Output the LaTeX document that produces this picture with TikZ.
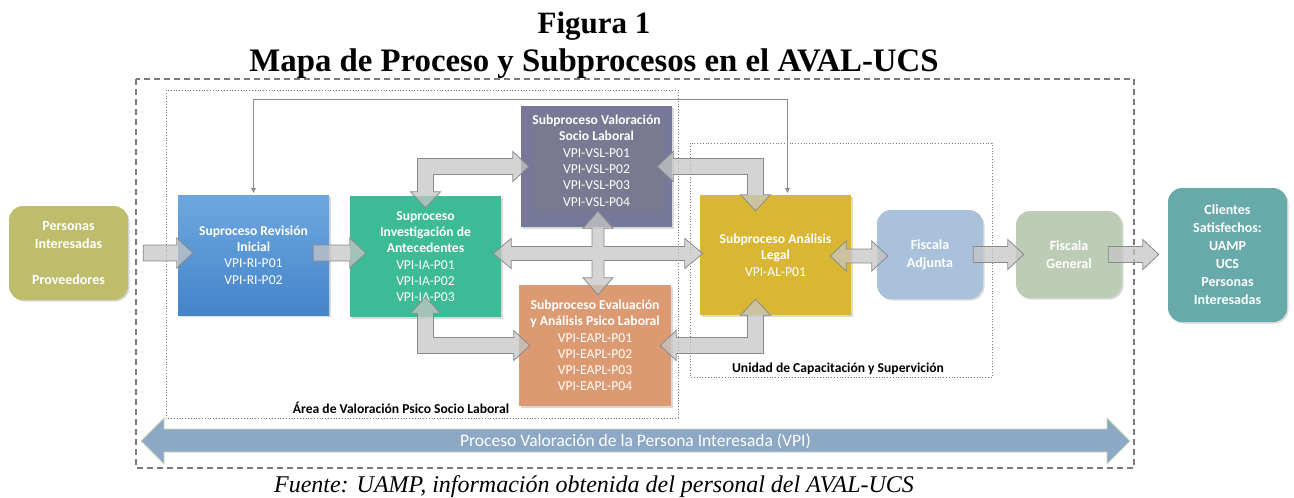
\documentclass[tikz,border=0pt]{standalone}
\usepackage{fontspec}
\setmainfont{Liberation Serif}
\newfontfamily\calibri{Carlito}
\usetikzlibrary{calc,arrows.meta,shadows}
\definecolor{persfill}{HTML}{BDBD6C}
\definecolor{ritop}{HTML}{6EA8DF}
\definecolor{ribot}{HTML}{4484CB}
\definecolor{iafill}{HTML}{3DBB96}
\definecolor{vslfill}{HTML}{777799}
\definecolor{eaplfill}{HTML}{DC9A72}
\definecolor{alfill}{HTML}{D9B733}
\definecolor{fafill}{HTML}{A9C1DA}
\definecolor{fgfill}{HTML}{BDCCB5}
\definecolor{clifill}{HTML}{68A9A9}
\definecolor{arrfill}{HTML}{C6C6C6}
\definecolor{arrline}{HTML}{8A8A8A}
\definecolor{vpifill}{HTML}{8CA8C4}
\definecolor{vpiline}{HTML}{C9DDB9}
\definecolor{linkgrey}{HTML}{8C8C8C}
\definecolor{areagrey}{HTML}{7A7A7A}
\tikzset{%
  procbox/.style={text=white, align=center, inner sep=2pt,
    font=\calibri\fontsize{13.6}{16.3}\selectfont,
    drop shadow={shadow xshift=1.5pt, shadow yshift=-1.5pt, opacity=.3}},
  endbox/.style={procbox, rounded corners=14pt,
    font=\calibri\bfseries\fontsize{14}{18}\selectfont},
  blockarrow/.style={draw=arrline, line width=.8pt, fill=arrfill, fill opacity=.75},
  link/.style={draw=linkgrey, line width=.6pt,
    {Triangle[length=5pt,width=5pt]}-{Triangle[length=5pt,width=5pt]}},
  area/.style={draw=areagrey, line width=.8pt, dotted},
  areatext/.style={font=\calibri\bfseries\fontsize{13.6}{15}\selectfont, inner sep=0pt},
}
% block arrow from tail #1 to tip #2 (pointing right)
\newcommand{\rarrow}[2]{%
  \draw[blockarrow] ($(#1)+(0,-8)$) -- ($(#2)+(-16,-8)$) -- ($(#2)+(-16,-15)$) -- (#2)
    -- ($(#2)+(-16,15)$) -- ($(#2)+(-16,8)$) -- ($(#1)+(0,8)$) -- cycle;}
% block arrow with two heads, tips #1 (left) and #2 (right)
\newcommand{\lrarrow}[2]{%
  \draw[blockarrow] (#1) -- ($(#1)+(16,-15)$) -- ($(#1)+(16,-7)$) -- ($(#2)+(-16,-7)$)
    -- ($(#2)+(-16,-15)$) -- (#2) -- ($(#2)+(-16,15)$) -- ($(#2)+(-16,7)$)
    -- ($(#1)+(16,7)$) -- ($(#1)+(16,15)$) -- cycle;}
% bent block arrow: corner #1, vertical tip #2, horizontal tip #3, signs #4 (x) #5 (y)
\newcommand{\elbow}[5]{%
  \draw[blockarrow] ($(#1)+(-8*#4,-8*#5)$) -- ($(#3)+(-16*#4,-8*#5)$)
    -- ($(#3)+(-16*#4,-15*#5)$) -- (#3) -- ($(#3)+(-16*#4,15*#5)$)
    -- ($(#3)+(-16*#4,8*#5)$) -- ($(#1)+(8*#4,8*#5)$) -- ($(#2)+(8*#4,-16*#5)$)
    -- ($(#2)+(15*#4,-16*#5)$) -- (#2) -- ($(#2)+(-15*#4,-16*#5)$)
    -- ($(#2)+(-8*#4,-16*#5)$) -- cycle;}

\begin{document}
\begin{tikzpicture}[x=1pt,y=-1pt]
  \useasboundingbox (0,0) rectangle (1294,498);
  % titles
  \node[font=\bfseries\fontsize{31}{36}\selectfont, anchor=base] (fig) at (594,33) {Figura 1};
  \node[font=\bfseries\fontsize{32.8}{36}\selectfont, anchor=base] (title) at (594,71)
    {Mapa de Proceso y Subprocesos en el AVAL-UCS};
  % frames
  \draw[areagrey, line width=1.2pt, dash pattern=on 6pt off 4pt] (136,79) rectangle (1134,468);
  \draw[area] (166,90) rectangle (678,418);
  \draw[area] (690,143) rectangle (992,377);
  \node[areatext, anchor=base] (arealbl) at (401,413) {Área de Valoración Psico Socio Laboral};
  \node[areatext, anchor=base] (unitlbl) at (838,372) {Unidad de Capacitación y Supervición};
  % boxes
  \node[endbox, fill=persfill, minimum width=119, minimum height=94] (pers) at (68.5,253)
    {Personas\\Interesadas\\[18pt]Proveedores};
  \node[procbox, top color=ritop, bottom color=ribot, minimum width=151, minimum height=120] (ri) at (253.5,255)
    {\textbf{Suproceso Revisión}\\\textbf{Inicial}\\VPI-RI-P01\\VPI-RI-P02};
  \node[procbox, fill=iafill, minimum width=151, minimum height=121] (ia) at (425.5,256.5)
    {\textbf{Suproceso}\\\textbf{Investigación de}\\\textbf{Antecedentes}\\VPI-IA-P01\\VPI-IA-P02\\VPI-IA-P03};
  \node[procbox, fill=vslfill, minimum width=151, minimum height=121] (vsl) at (596.5,166.5) {};
  \node[procbox, drop shadow={opacity=0}, anchor=north] (vsltxt) at ($(vsl.north)+(0,7)$)
    {\textbf{Subproceso Valoración}\\\textbf{Socio Laboral}\\VPI-VSL-P01\\VPI-VSL-P02\\VPI-VSL-P03\\VPI-VSL-P04};
  \node[procbox, fill=eaplfill, minimum width=152, minimum height=121] (eapl) at (595,345.5)
    {\textbf{Subproceso Evaluación}\\\textbf{y Análisis Psico Laboral}\\VPI-EAPL-P01\\VPI-EAPL-P02\\VPI-EAPL-P03\\VPI-EAPL-P04};
  \node[procbox, fill=alfill, minimum width=151, minimum height=120] (al) at (775.5,255)
    {\textbf{Subproceso Análisis}\\\textbf{Legal}\\VPI-AL-P01};
  \node[endbox, fill=fafill, minimum width=106, minimum height=89] (fa) at (930,254.5)
    {Fiscala\\Adjunta};
  \node[endbox, fill=fgfill, minimum width=106, minimum height=87] (fg) at (1069,254.5)
    {Fiscala\\General};
  \node[endbox, fill=clifill, minimum width=119, minimum height=134] (cli) at (1227.5,255)
    {Clientes\\Satisfechos:\\UAMP\\UCS\\Personas\\Interesadas};
  % block arrows
  \coordinate (p1) at ($(pers.east)+(15,0)$);
  \coordinate (p2) at ($(ri.west |- pers.east)+(15,0)$);
  \rarrow{p1}{p2}
  \coordinate (r1) at ($(ri.east)+(-16,-2)$);
  \coordinate (r2) at ($(ia.west |- r1)+(16,0)$);
  \rarrow{r1}{r2}
  \coordinate (f1) at ($(fa.east)+(-10,0)$);
  \coordinate (f2) at ($(fg.west |- fa.east)+(8,0)$);
  \rarrow{f1}{f2}
  \coordinate (g1) at ($(fg.east)+(-14,0)$);
  \coordinate (g2) at ($(cli.west |- fg.east)+(-9,0)$);
  \rarrow{g1}{g2}
  \coordinate (a1) at ($(al.east)+(-21,1)$);
  \coordinate (a2) at ($(fa.west |- a1)+(11,0)$);
  \lrarrow{a1}{a2}
  % bent arrows
  \coordinate (c1) at (ia.north |- vsl.west);
  \coordinate (c1v) at ($(ia.north)+(0,12)$);
  \coordinate (c1h) at ($(vsl.west)+(8,0)$);
  \elbow{c1}{c1v}{c1h}{1}{1}
  \coordinate (c2) at (ia.south |- eapl.west);
  \coordinate (c2v) at ($(ia.south)+(0,-20)$);
  \coordinate (c2h) at ($(eapl.west)+(11,0)$);
  \elbow{c2}{c2v}{c2h}{1}{-1}
  \coordinate (alup) at ($(al.north)+(-20,0)$);
  \coordinate (c3) at (alup |- vsl.east);
  \coordinate (c3v) at ($(alup)+(0,16)$);
  \coordinate (c3h) at ($(vsl.east)+(-15,0)$);
  \elbow{c3}{c3v}{c3h}{-1}{1}
  \coordinate (aldn) at ($(al.south)+(-20,0)$);
  \coordinate (c4) at (aldn |- eapl.east);
  \coordinate (c4v) at ($(aldn)+(0,-16)$);
  \coordinate (c4h) at ($(eapl.east)+(-11,0)$);
  \elbow{c4}{c4v}{c4h}{-1}{-1}
  % cross between the four subprocesses
  \coordinate (lt) at ($(ia.east)+(-8,-3)$);
  \coordinate (rt) at ($(al.west |- lt)+(3,0)$);
  \coordinate (ut) at ($(vsl.south)+(1.5,-16)$);
  \coordinate (dt) at ($(ut |- eapl.north)+(0,10)$);
  \coordinate (X) at (ut |- lt);
  \draw[blockarrow] (lt) -- ($(lt)+(18,-15)$) -- ($(lt)+(18,-7)$) -- ($(X)+(-6,-7)$)
    -- ($(ut)+(-6,17)$) -- ($(ut)+(-15,17)$) -- (ut) -- ($(ut)+(15,17)$) -- ($(ut)+(6,17)$)
    -- ($(X)+(6,-7)$) -- ($(rt)+(-18,-7)$) -- ($(rt)+(-18,-15)$) -- (rt) -- ($(rt)+(-18,15)$)
    -- ($(rt)+(-18,7)$) -- ($(X)+(6,7)$) -- ($(dt)+(6,-17)$) -- ($(dt)+(15,-17)$) -- (dt)
    -- ($(dt)+(-15,-17)$) -- ($(dt)+(-6,-17)$) -- ($(X)+(-6,7)$) -- ($(lt)+(18,7)$)
    -- ($(lt)+(18,15)$) -- cycle;
  % return line
  \coordinate (ritop) at ($(ri.north)+(0,-2)$);
  \coordinate (altop) at ($(al.north)+(12,-2)$);
  \draw[link] (ritop) |- ($(altop)+(0,-94)$) -- (altop);
  % process arrow
  \coordinate (vl) at (141,441);
  \coordinate (vr) at (1130,441);
  \fill[vpifill, draw=vpiline, line width=.8pt] (vl) -- ($(vl)+(23,-23)$) -- ($(vl)+(23,-12)$)
    -- ($(vr)+(-23,-12)$) -- ($(vr)+(-23,-23)$) -- (vr) -- ($(vr)+(-23,23)$)
    -- ($(vr)+(-23,11)$) -- ($(vl)+(23,11)$) -- ($(vl)+(23,23)$) -- cycle;
  \node[text=white, font=\calibri\fontsize{17.5}{20}\selectfont] (vpi) at ($(vl)!.5!(vr)$)
    {Proceso Valoración de la Persona Interesada (VPI)};
  % source
  \node[font=\itshape\fontsize{24}{26}\selectfont, anchor=base] (src) at (594,492)
    {Fuente: UAMP, información obtenida del personal del AVAL-UCS};
\end{tikzpicture}
\end{document}
